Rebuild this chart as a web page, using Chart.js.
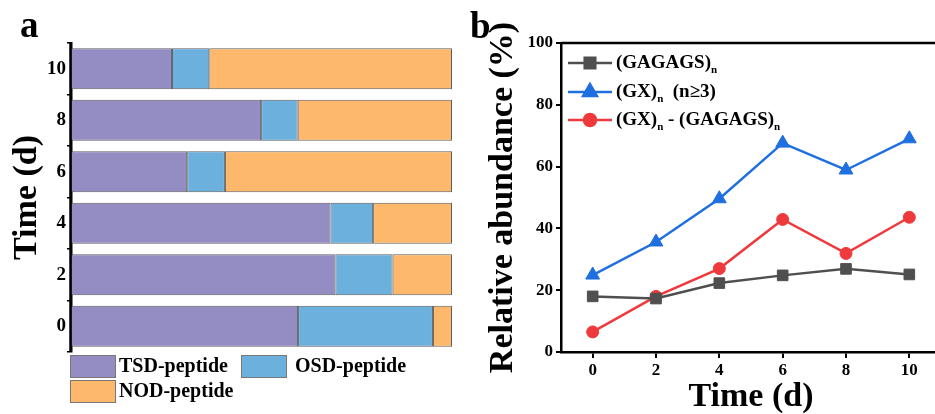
<!DOCTYPE html>
<html>
<head>
<meta charset="utf-8">
<script src="https://cdn.jsdelivr.net/npm/chart.js@4.4.1/dist/chart.umd.min.js"></script>
<style>
  html, body { margin: 0; padding: 0; background: #fff; overflow: hidden; }
  #wrap { position: relative; width: 935px; height: 414px; overflow: hidden; }
  #boxA { position: absolute; left: 0; top: 0; width: 470px; height: 414px; }
  #boxB { position: absolute; left: 470px; top: 0; width: 480px; height: 414px; }
</style>
</head>
<body>
<div id="wrap">
  <div id="boxA"><canvas id="chartA"></canvas></div>
  <div id="boxB"><canvas id="chartB"></canvas></div>
</div>
<script>
// panel a - composition per time point (%)
const timeLabels = ['0', '2', '4', '6', '8', '10'];
const tsdValues = [59.6, 69.4, 68.1, 30.5, 49.9, 26.5];
const osdValues = [35.4, 15.0, 11.2, 9.9, 9.6, 9.8];
const nodValues = [5.0, 15.6, 20.7, 59.6, 40.5, 63.7];

// panel b - relative abundance (%)
const timeValues = [0, 2, 4, 6, 8, 10];
const gagagsValues = [18.0, 17.3, 22.3, 24.8, 26.9, 25.1];
const gxValues = [24.9, 35.6, 49.6, 67.6, 58.9, 69.0];
const diffValues = [6.5, 18.0, 27.0, 42.9, 31.9, 43.6];
const abundanceTicks = [0, 20, 40, 60, 80, 100];

const serif = "'Liberation Serif', 'Times New Roman', serif";
Chart.defaults.font.family = serif;
Chart.defaults.color = '#000';

// panel letter
const panelLabel = (letter, x, y) => ({
  id: 'panelLabel' + letter,
  afterDraw(chart) {
    const ctx = chart.ctx;
    ctx.save();
    ctx.font = 'bold 37px ' + serif;
    ctx.fillStyle = '#000';
    ctx.textBaseline = 'alphabetic';
    ctx.fillText(letter, x, y);
    ctx.restore();
  }
});

// legend under panel a, two rows of boxes
const barLegend = {
  id: 'barLegend',
  afterDraw(chart) {
    const ctx = chart.ctx;
    const slots = [[70, 355], [241, 355], [70, 380]];
    ctx.save();
    ctx.font = 'bold 20px ' + serif;
    ctx.textBaseline = 'middle';
    chart.data.datasets.forEach((ds, i) => {
      const [x, y] = slots[i];
      ctx.fillStyle = ds.backgroundColor;
      ctx.fillRect(x, y, 45, 22);
      ctx.strokeStyle = '#777';
      ctx.lineWidth = 1;
      ctx.strokeRect(x + 0.5, y + 0.5, 45, 22);
      ctx.fillStyle = '#000';
      ctx.fillText(ds.label, x + (i === 1 ? 54 : 49), y + 12);
    });
    ctx.restore();
  }
};

// the bars sit on the axis, so put the axis line back on top of them
const axisOnTop = {
  id: 'axisOnTop',
  afterDatasetsDraw(chart) {
    const {ctx, chartArea: a} = chart;
    ctx.save();
    ctx.strokeStyle = '#000';
    ctx.lineWidth = 2.5;
    ctx.beginPath();
    ctx.moveTo(a.left - 0.5, a.top);
    ctx.lineTo(a.left - 0.5, a.bottom);
    ctx.stroke();
    ctx.restore();
  }
};

const barDefaults = {
  borderColor: '#5e5e5e',
  borderWidth: 1,
  borderSkipped: false,
  barPercentage: 0.8,
  categoryPercentage: 1
};

new Chart(document.getElementById('chartA'), {
  type: 'bar',
  data: {
    labels: timeLabels,
    datasets: [
      {label: 'TSD-peptide', data: tsdValues, backgroundColor: '#948dc4', ...barDefaults},
      {label: 'OSD-peptide', data: osdValues, backgroundColor: '#6cb0de', ...barDefaults},
      {label: 'NOD-peptide', data: nodValues, backgroundColor: '#fdb86c', ...barDefaults}
    ]
  },
  options: {
    indexAxis: 'y',
    responsive: true,
    maintainAspectRatio: false,
    animation: false,
    layout: {padding: {top: 43, right: 18, bottom: 62, left: 0}},
    plugins: {legend: {display: false}, tooltip: {enabled: false}},
    scales: {
      x: {stacked: true, min: 0, max: 100, display: false},
      y: {
        stacked: true,
        reverse: true,
        afterFit: s => { s.width = 71; },
        border: {color: '#000', width: 2.5},
        grid: {drawOnChartArea: false, color: '#000', lineWidth: 1.5, tickLength: 4},
        ticks: {padding: 1, color: '#000', font: {size: 19, weight: 'bold'}},
        title: {
          display: true,
          text: 'Time (d)',
          color: '#000',
          padding: {top: 10, bottom: 0},
          font: {size: 34, weight: 'bold', lineHeight: 1}
        }
      }
    }
  },
  plugins: [axisOnTop, barLegend, panelLabel('a', 20, 37)]
});

// legend of panel b with subscript n
const lineLegend = {
  id: 'lineLegend',
  afterDraw(chart) {
    const ctx = chart.ctx;
    const rows = [
      [['(GAGAGS)', 0], ['n', 1]],
      [['(GX)', 0], ['n', 1], ['  (n\u22653)', 0]],
      [['(GX)', 0], ['n', 1], [' - (GAGAGS)', 0], ['n', 1]]
    ];
    const ys = [63, 92, 120];
    ctx.save();
    chart.data.datasets.forEach((ds, i) => {
      const y = ys[i];
      ctx.strokeStyle = ds.borderColor;
      ctx.lineWidth = 2.5;
      ctx.beginPath();
      ctx.moveTo(98, y);
      ctx.lineTo(142, y);
      ctx.stroke();
      ctx.fillStyle = ds.backgroundColor;
      Chart.helpers.drawPoint(ctx, {
        pointStyle: ds.pointStyle,
        radius: ds.pointRadius,
        borderWidth: 1
      }, 120, y);
      let x = 146;
      ctx.fillStyle = '#000';
      ctx.textBaseline = 'middle';
      rows[i].forEach(([txt, sub]) => {
        ctx.font = sub ? 'bold 11px ' + serif : 'bold 19px ' + serif;
        ctx.fillText(txt, x, sub ? y + 7 : y);
        x += ctx.measureText(txt).width;
      });
    });
    ctx.restore();
  }
};

// top (and right) frame lines
const frame = {
  id: 'frame',
  afterDraw(chart) {
    const {ctx, chartArea: a} = chart;
    ctx.save();
    ctx.strokeStyle = '#000';
    ctx.lineWidth = 2.5;
    ctx.beginPath();
    ctx.moveTo(a.left, a.top);
    ctx.lineTo(a.right, a.top);
    ctx.lineTo(a.right, a.bottom);
    ctx.stroke();
    ctx.restore();
  }
};

const toPoints = vals => timeValues.map((t, i) => ({x: t, y: vals[i]}));

new Chart(document.getElementById('chartB'), {
  type: 'line',
  data: {
    datasets: [
      {
        label: '(GAGAGS)n', data: toPoints(gagagsValues),
        borderColor: '#4f4f4f', backgroundColor: '#4f4f4f',
        pointStyle: 'rect', pointRadius: 7.5, pointBorderWidth: 1, borderWidth: 2.5
      },
      {
        label: '(GX)n (n\u22653)', data: toPoints(gxValues),
        borderColor: '#1f6fe0', backgroundColor: '#1f6fe0',
        pointStyle: 'triangle', pointRadius: 8, pointBorderWidth: 1, borderWidth: 2.5
      },
      {
        label: '(GX)n - (GAGAGS)n', data: toPoints(diffValues),
        borderColor: '#ef3a3d', backgroundColor: '#ef3a3d',
        pointStyle: 'circle', pointRadius: 6, pointBorderWidth: 1, borderWidth: 2.5
      }
    ]
  },
  options: {
    responsive: true,
    maintainAspectRatio: false,
    animation: false,
    clip: false,
    layout: {padding: {top: 43, right: 7, bottom: 0, left: 0}},
    plugins: {legend: {display: false}, tooltip: {enabled: false}},
    scales: {
      x: {
        type: 'linear',
        min: -1,
        max: 11,
        afterBuildTicks: s => { s.ticks = timeValues.map(v => ({value: v})); },
        afterFit: s => { s.height = 62; },
        border: {color: '#000', width: 2.5},
        grid: {drawOnChartArea: false, color: '#000', lineWidth: 2, tickLength: 6},
        ticks: {padding: 2, color: '#000', font: {size: 17, weight: 'bold'}},
        title: {
          display: true,
          text: 'Time (d)',
          color: '#000',
          padding: {top: 0, bottom: 0},
          font: {size: 34, weight: 'bold', lineHeight: 1}
        }
      },
      y: {
        min: 0,
        max: 100,
        afterBuildTicks: s => { s.ticks = abundanceTicks.map(v => ({value: v})); },
        afterFit: s => { s.width = 91; },
        border: {color: '#000', width: 2.5},
        grid: {drawOnChartArea: false, color: '#000', lineWidth: 2, tickLength: 5},
        ticks: {padding: 3, color: '#000', font: {size: 17, weight: 'bold'}},
        title: {
          display: true,
          text: 'Relative abundance (%)',
          color: '#000',
          padding: {top: 16, bottom: 0},
          font: {size: 34, weight: 'bold', lineHeight: 1}
        }
      }
    }
  },
  plugins: [frame, lineLegend, panelLabel('b', 0, 38)]
});
</script>
</body>
</html>
